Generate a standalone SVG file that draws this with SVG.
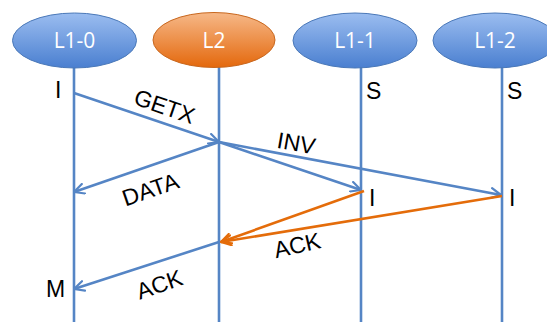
<svg xmlns="http://www.w3.org/2000/svg" width="547" height="322" viewBox="0 0 547 322">
  <defs>
    <linearGradient id="gBlue" x1="0" y1="0" x2="0" y2="1">
      <stop offset="0" stop-color="#9bbdf0"/>
      <stop offset="1" stop-color="#4a7fd0"/>
    </linearGradient>
    <linearGradient id="gOrange" x1="0" y1="0" x2="0" y2="1">
      <stop offset="0" stop-color="#f6b888"/>
      <stop offset="1" stop-color="#e4680c"/>
    </linearGradient>
    <marker id="arrBlue" viewBox="0 0 12 12" refX="11" refY="6" markerWidth="12" markerHeight="12" markerUnits="userSpaceOnUse" orient="auto">
      <path d="M1,1 L11,6 L1,11" fill="none" stroke="#5585c5" stroke-width="2.2" stroke-linecap="round" stroke-linejoin="round"/>
    </marker>
    <marker id="arrOrange" viewBox="0 0 12 12" refX="11" refY="6" markerWidth="12" markerHeight="12" markerUnits="userSpaceOnUse" orient="auto">
      <path d="M1,1 L11,6 L1,11" fill="none" stroke="#e46c0a" stroke-width="2.2" stroke-linecap="round" stroke-linejoin="round"/>
    </marker>
  </defs>
  <style>
    .node ellipse { stroke: #4a78b8; stroke-width: 1; }
    .node.l2 ellipse { stroke: #c8671e; }
    .name { font-family: "Open Sans", "Noto Sans", sans-serif; font-size: 21px; fill: #ffffff; text-anchor: middle; }
    .life { stroke: #5585c5; stroke-width: 2.6; fill: none; }
    .msg { stroke: #5585c5; stroke-width: 2.6; fill: none; marker-end: url(#arrBlue); }
    .ack { stroke: #e46c0a; stroke-width: 2.6; fill: none; marker-end: url(#arrOrange); }
    .state { font-family: "Liberation Sans", Arial, sans-serif; font-size: 23px; fill: #000000; }
    .label { font-family: "Liberation Sans", Arial, sans-serif; font-size: 23px; fill: #000000; text-anchor: middle; }
  </style>

  <rect width="547" height="322" fill="#ffffff"/>

  <!-- lifelines -->
  <g id="lifelines">
    <line class="life" x1="74" y1="67" x2="74" y2="322"/>
    <line class="life" x1="219" y1="66" x2="219" y2="322"/>
    <line class="life" x1="361" y1="67" x2="361" y2="322"/>
    <line class="life" x1="502" y1="67" x2="502" y2="322"/>
  </g>

  <!-- cache controllers -->
  <g id="node-l1-0" class="node">
    <ellipse cx="74.5" cy="40.5" rx="62" ry="27.5" fill="url(#gBlue)"/>
    <text class="name" x="74.5" y="48">L1-0</text>
  </g>
  <g id="node-l2" class="node l2">
    <ellipse cx="214" cy="40" rx="61" ry="27.5" fill="url(#gOrange)"/>
    <text class="name" x="214" y="48">L2</text>
  </g>
  <g id="node-l1-1" class="node">
    <ellipse cx="355" cy="40.5" rx="62" ry="27.5" fill="url(#gBlue)"/>
    <text class="name" x="355" y="48">L1-1</text>
  </g>
  <g id="node-l1-2" class="node">
    <ellipse cx="495" cy="40.5" rx="62" ry="27.5" fill="url(#gBlue)"/>
    <text class="name" x="495" y="48">L1-2</text>
  </g>

  <!-- messages -->
  <g id="connectors">
    <line class="msg" x1="74" y1="93" x2="219" y2="142"/>
    <line class="msg" x1="219" y1="142" x2="74" y2="192"/>
    <line class="msg" x1="219" y1="142" x2="361" y2="190"/>
    <line class="msg" x1="219" y1="142" x2="501" y2="195"/>
    <line class="ack" x1="364" y1="191" x2="221" y2="242"/>
    <line class="ack" x1="502" y1="196" x2="221" y2="242"/>
    <line class="msg" x1="219" y1="242" x2="74" y2="289"/>
  </g>

  <!-- message labels -->
  <g id="labels">
    <text class="label" transform="translate(162,114) rotate(19)">GETX</text>
    <text class="label" transform="translate(295,151) rotate(10)">INV</text>
    <text class="label" transform="translate(153,197) rotate(-19)">DATA</text>
    <text class="label" transform="translate(299,253) rotate(-13)">ACK</text>
    <text class="label" transform="translate(162,292) rotate(-19)">ACK</text>
  </g>

  <!-- coherence states -->
  <g id="states">
    <text class="state" x="55" y="98">I</text>
    <text class="state" x="366" y="99">S</text>
    <text class="state" x="507" y="99">S</text>
    <text class="state" x="369" y="206">I</text>
    <text class="state" x="509" y="206">I</text>
    <text class="state" x="46" y="297">M</text>
  </g>
</svg>
